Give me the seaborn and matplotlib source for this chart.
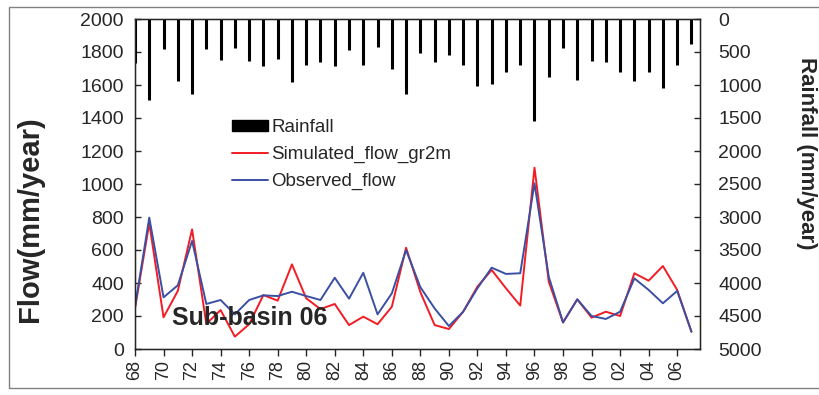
import numpy as np
import pandas as pd
import matplotlib
matplotlib.use('Agg')
import matplotlib.pyplot as plt
from matplotlib.patches import Patch, Rectangle
from matplotlib.lines import Line2D
import seaborn as sns

# ---------------- DATA ----------------
years = list(range(1968, 2008))
year_labels = [str(y)[2:] for y in years]

rainfall = [670, 1220, 455, 940, 1140, 455, 625, 440, 640, 715,
            600, 955, 690, 655, 715, 470, 700, 430, 760, 1140,
            520, 645, 545, 700, 1010, 980, 810, 690, 1550, 880,
            445, 930, 640, 655, 810, 940, 800, 1045, 690, 375]

simulated = [247, 762, 192, 352, 725, 152, 236, 75, 150, 327,
             293, 513, 307, 242, 273, 145, 196, 150, 256, 614,
             345, 145, 121, 226, 378, 479, 368, 263, 1099, 408,
             160, 301, 190, 226, 200, 459, 414, 503, 358, 105]

observed = [256, 796, 313, 386, 655, 273, 297, 210, 297, 325,
            321, 347, 321, 297, 432, 305, 462, 210, 337, 600,
            375, 246, 139, 226, 368, 493, 455, 459, 1004, 438,
            162, 301, 200, 182, 226, 428, 358, 277, 352, 105]

df = pd.DataFrame({'i': np.arange(len(years)), 'rain': rainfall,
                   'sim': simulated, 'obs': observed})

# ---------------- FIGURE ----------------
sns.set_style('white')
plt.rcParams['font.family'] = ['Liberation Sans', 'DejaVu Sans']

fig = plt.figure(figsize=(8.19, 3.95), dpi=100)
ax = fig.add_axes([135 / 819, 1 - 349 / 395, 565 / 819, 330 / 395])

# flows on left axis
sns.lineplot(data=df, x='i', y='sim', ax=ax, color='#f21c24', linewidth=1.4)
sns.lineplot(data=df, x='i', y='obs', ax=ax, color='#3b4fa3', linewidth=1.4)

ax.set_xlim(0, 39.6)
ax.set_ylim(0, 2000)
ax.set_yticks(range(0, 2001, 200))
ax.set_xticks(df['i'][::2])
ax.set_xticklabels(year_labels[::2], rotation=90, fontsize=13)
ax.tick_params(axis='y', labelsize=14, direction='in', length=4, width=1, pad=8)
ax.tick_params(axis='x', direction='out', length=5, width=1, bottom=True, pad=3)
ax.set_xlabel('')
ax.set_ylabel('Flow(mm/year)', fontsize=21, fontweight='bold', va='center')
ax.yaxis.set_label_coords(-0.186, 0.395)
for s in ax.spines.values():
    s.set_color('black')
    s.set_linewidth(1)

ax.text(2.6, 188, 'Sub-basin 06', fontsize=18, fontweight='bold', va='center')

# rainfall on inverted right axis
ax2 = ax.twinx()
ax2.vlines(df['i'], 0, df['rain'], color='black', linewidth=2.2)
ax2.set_ylim(5000, 0)
ax2.set_yticks(range(0, 5001, 500))
ax2.set_xlim(0, 39.6)
ax2.tick_params(axis='y', labelsize=14, direction='in', length=4, width=1, pad=13)
ax2.set_ylabel('Rainfall (mm/year)', fontsize=16, fontweight='bold', rotation=-90,
               va='center')
ax2.yaxis.set_label_coords(1.188, 0.594)
ax2.grid(False)
ax.grid(False)

# legend
handles = [Patch(facecolor='black', edgecolor='black'),
           Line2D([], [], color='#f21c24', linewidth=1.4),
           Line2D([], [], color='#3b4fa3', linewidth=1.4)]
labels = ['Rainfall', 'Simulated_flow_gr2m', 'Observed_flow']
ax2.legend(handles, labels, loc='upper left', bbox_to_anchor=(232 / 819, 1 - 119 / 395),
           bbox_transform=fig.transFigure, frameon=False, fontsize=13.5,
           handlelength=1.9, handleheight=0.55, handletextpad=0.2, labelspacing=0.52,
           borderpad=0, borderaxespad=0)

# grey frame round the whole chart
fig.patches.append(Rectangle((9 / 819, 1 - 388 / 395), 830 / 819, 381 / 395,
                             transform=fig.transFigure, fill=False,
                             edgecolor='#808080', linewidth=1))

fig.savefig('out.png', dpi=100)
